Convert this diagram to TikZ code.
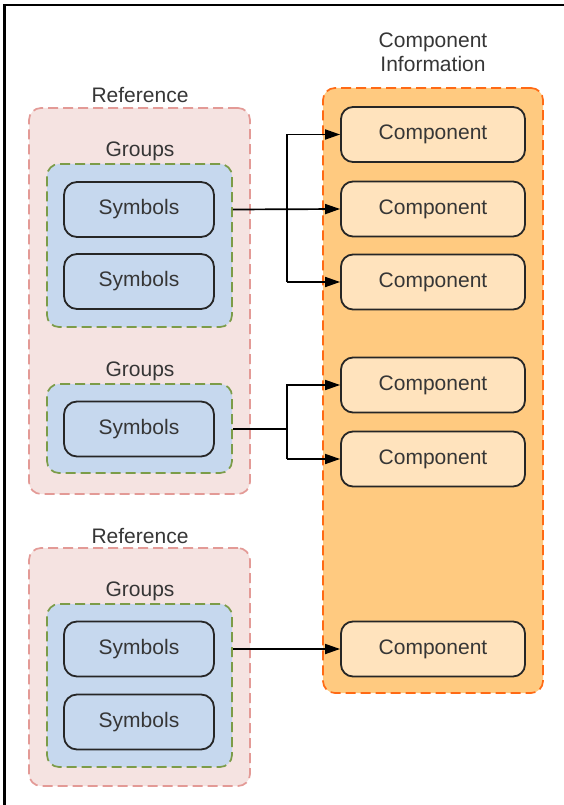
\documentclass[tikz,border=0pt]{standalone}
\usepackage{fontspec}
\setmainfont{Liberation Sans}
\usetikzlibrary{arrows.meta}

\definecolor{refFill}{HTML}{F5E3E1}
\definecolor{refLine}{HTML}{E39A96}
\definecolor{grpFill}{HTML}{C6D8EE}
\definecolor{grpLine}{HTML}{7C9C48}
\definecolor{infoFill}{HTML}{FFCA80}
\definecolor{infoLine}{HTML}{FF6A14}
\definecolor{compFill}{HTML}{FFE3BD}
\definecolor{txt}{HTML}{363636}

\begin{document}
\begin{tikzpicture}[x=1pt,y=-1pt,
  font=\fontsize{21}{25}\selectfont, text=txt,
  dashbox/.style={draw, dash pattern=on 10pt off 5pt, line width=1.7pt, inner sep=0pt},
  refbox/.style={dashbox, draw=refLine, fill=refFill, rounded corners=12pt, minimum width=221pt},
  grpbox/.style={dashbox, draw=grpLine, fill=grpFill, rounded corners=12pt, minimum width=185pt},
  infobox/.style={dashbox, draw=infoLine, fill=infoFill, rounded corners=12pt},
  symbox/.style={draw=black!85, line width=1.8pt, fill=grpFill, rounded corners=13pt,
    minimum width=150pt, minimum height=55pt, inner sep=0pt},
  compbox/.style={draw=black!85, line width=1.8pt, fill=compFill, rounded corners=12pt,
    minimum width=184pt, minimum height=55pt, inner sep=0pt},
  lbl/.style={inner sep=0pt, align=center},
  conn/.style={line width=1.7pt, -{Triangle[length=15pt,width=10pt]}},
  wire/.style={line width=1.7pt}
]
\useasboundingbox (0,0) rectangle (563,805);

% page frame (left and top edges)
\coordinate (fb) at (4.5,805);
\coordinate (fc) at (4.5,5);
\coordinate (fr) at (563,5);
\draw[line width=2.2pt, line cap=rect] (fb) -- (fc) -- (fr);

% component information panel
\node[lbl] (infolbl) at (433,52) {Component\\[-1pt]Information};
\node[infobox, minimum width=220pt, minimum height=605pt] (info) at (433,390.5) {};
\node[compbox] (c1) at (433,134.5) {Component};
\node[compbox] (c2) at (433,209) {Component};
\node[compbox] (c3) at (433,282) {Component};
\node[compbox] (c4) at (433,385) {Component};
\node[compbox] (c5) at (433,459) {Component};
\node[compbox] (c6) at (433,649) {Component};

% first reference
\node[lbl] (r1lbl) at (140,95) {Reference};
\node[refbox, minimum height=386pt] (r1) at (139.5,301) {};
\node[lbl] (g1lbl) at (140,151) {Groups};
\node[grpbox, minimum height=163pt] (g1) at (139.5,245.5) {};
\node[symbox] (s1) at (139,209.5) {Symbols};
\node[symbox] (s2) at (139,281.5) {Symbols};
\node[lbl] (g2lbl) at (140,371) {Groups};
\node[grpbox, minimum height=89pt] (g2) at (139.5,428.5) {};
\node[symbox] (s3) at (139,429) {Symbols};

% second reference
\node[lbl] (r2lbl) at (140,536) {Reference};
\node[refbox, minimum height=238pt] (r2) at (139.5,667) {};
\node[lbl] (g3lbl) at (140,591) {Groups};
\node[grpbox, minimum height=163pt] (g3) at (139.5,685.5) {};
\node[symbox] (s4) at (139,649) {Symbols};
\node[symbox] (s5) at (139,722) {Symbols};

% connectors
\coordinate (br1) at (287,0);
\coordinate (br2) at (287,0);
\draw[conn] (s1.east -| g1.east) -- (c2.west);
\draw[conn] (br1 |- c3.west) |- (c1.west);
\draw[conn] (br1 |- c3.west) -- (c3.west);

\draw[wire] (s3.east -| g2.east) -- (br2 |- s3.east);
\draw[conn] (br2 |- c5.west) |- (c4.west);
\draw[conn] (br2 |- c5.west) -- (c5.west);

\draw[conn] (s4.east -| g3.east) -- (c6.west);
\end{tikzpicture}
\end{document}
